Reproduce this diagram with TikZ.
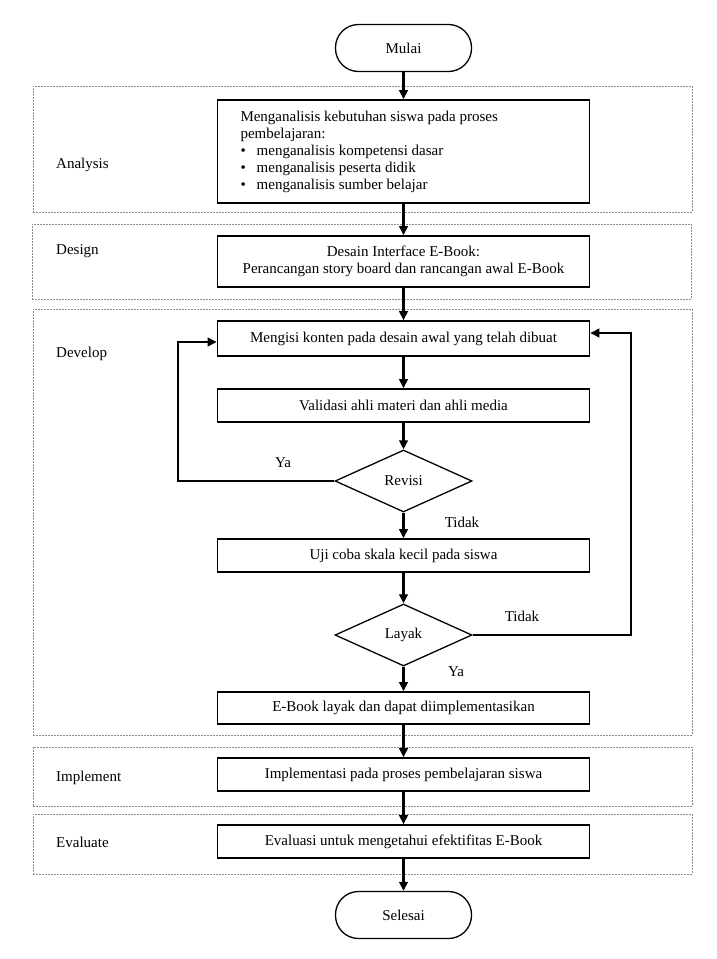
\documentclass[tikz,border=0pt]{standalone}
\usepackage{fontspec}
\setmainfont{Liberation Serif}
\usepackage{tikz}
\usetikzlibrary{arrows.meta, positioning, shapes.geometric, shapes.misc}

\newcommand{\butir}{\textbullet\hspace{11pt}}

\begin{document}
\begin{tikzpicture}[
    x=1pt, y=1pt,
    font=\fontsize{15}{17}\selectfont,
    fase/.style={draw=black!45, dash pattern=on 2pt off 1pt, line width=0.8pt,
        minimum width=659pt, inner sep=0pt},
    proses/.style={draw=black, line width=1.6pt, minimum width=372pt, minimum height=33pt,
        inner sep=0pt, align=center},
    terminal/.style={draw=black, line width=1.3pt, rounded corners=23pt, minimum width=136pt,
        minimum height=47pt, inner sep=0pt},
    keputusan/.style={draw=black, line width=1.3pt, diamond, aspect=2.2, minimum width=137pt,
        minimum height=62pt, inner sep=0pt},
    fasename/.style={anchor=west, inner sep=0pt},
    ket/.style={inner sep=0pt},
    arrow/.style={-{Triangle[length=9pt, width=8.5pt]}, line width=2.6pt, draw=black}
]
\useasboundingbox (0,0) rectangle (716,-959);

% fase ADDIE
\node[fase, minimum height=126pt] (fAnalysis) at (362.5,-149) {};
\node[fase, minimum height=75pt] (fDesign) at (361.5,-261.5) {};
\node[fase, minimum height=426pt] (fDevelop) at (362.5,-522) {};
\node[fase, minimum height=59pt] (fImplement) at (362.5,-776.5) {};
\node[fase, minimum height=60pt] (fEvaluate) at (362.5,-844) {};

\node[fasename] (nAnalysis) at (56,-165) {Analysis};
\node[fasename] (nDesign) at (56,-251) {Design};
\node[fasename] (nDevelop) at (56,-354) {Develop};
\node[fasename] (nImplement) at (56,-778) {Implement};
\node[fasename] (nEvaluate) at (56,-842) {Evaluate};

% alur
\node[terminal] (mulai) at (403.5,-48) {Mulai};
\node[proses, minimum height=103pt, text width=326pt, align=flush left] (analisis) at (403.5,-151.5)
    {Menganalisis kebutuhan siswa pada proses\\
     pembelajaran:\\
     \butir menganalisis kompetensi dasar\\
     \butir menganalisis peserta didik\\
     \butir menganalisis sumber belajar};
\node[proses, minimum height=51pt] (desain) at (403.5,-261.5)
    {Desain Interface E-Book:\\ Perancangan story board dan rancangan awal E-Book};
\node[proses, minimum height=35pt] (mengisi) at (403.5,-338.5) {Mengisi konten pada desain awal yang telah dibuat};
\node[proses] (validasi) at (403.5,-405.5) {Validasi ahli materi dan ahli media};
\node[keputusan] (revisi) at (403.5,-481) {Revisi};
\node[proses] (uji) at (403.5,-555.5) {Uji coba skala kecil pada siswa};
\node[keputusan] (layak) at (403.5,-635) {Layak};
\node[proses, minimum height=32pt] (ebook) at (403.5,-708) {E-Book layak dan dapat diimplementasikan};
\node[proses] (implementasi) at (403.5,-774.5) {Implementasi pada proses pembelajaran siswa};
\node[proses] (evaluasi) at (403.5,-841.5) {Evaluasi untuk mengetahui efektifitas E-Book};
\node[terminal] (selesai) at (403.5,-915) {Selesai};

\draw[arrow] (mulai) -- (analisis);
\draw[arrow] (analisis) -- (desain);
\draw[arrow] (desain) -- (mengisi);
\draw[arrow] (mengisi) -- (validasi);
\draw[arrow] (validasi) -- (revisi);
\draw[arrow] (revisi) -- (uji);
\draw[arrow] (uji) -- (layak);
\draw[arrow] (layak) -- (ebook);
\draw[arrow] (ebook) -- (implementasi);
\draw[arrow] (implementasi) -- (evaluasi);
\draw[arrow] (evaluasi) -- (selesai);

% umpan balik
\draw[arrow] (revisi.west) -- (178,-481) |- ([yshift=-3.5pt]mengisi.west);
\draw[arrow] (layak.east) -- (631,-635) |- ([yshift=5.5pt]mengisi.east);

\node[ket] (lYa1) at (283,-463) {Ya};
\node[ket] (lTidak1) at (462,-522) {Tidak};
\node[ket] (lTidak2) at (522,-616) {Tidak};
\node[ket] (lYa2) at (456,-672) {Ya};
\end{tikzpicture}
\end{document}
